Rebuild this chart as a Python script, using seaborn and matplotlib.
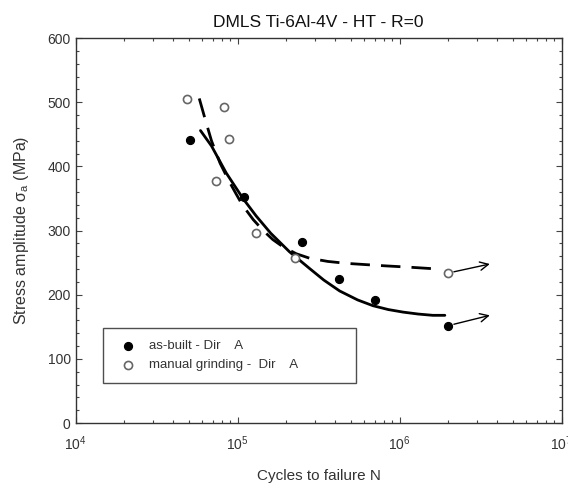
import matplotlib
matplotlib.use("Agg")
import matplotlib.pyplot as plt
import seaborn as sns
import pandas as pd
from matplotlib.ticker import MultipleLocator, LogLocator, NullFormatter

# as-built - Dir A (filled)
built_n = [5.1e4, 1.09e5, 2.5e5, 4.2e5, 7.0e5, 2.0e6]
built_s = [441, 353, 283, 224, 192, 152]

# manual grinding - Dir A (open)
ground_n = [4.9e4, 7.4e4, 8.2e4, 8.8e4, 1.3e5, 2.26e5, 2.0e6]
ground_s = [505, 378, 493, 443, 296, 258, 234]

# fitted curves
built_fit_n = [5.9e4, 6.9e4, 8.5e4, 1.08e5, 1.3e5, 1.6e5, 2.09e5, 2.78e5, 3.4e5,
               4.26e5, 5.5e5, 6.84e5, 8.5e5, 1.05e6, 1.3e6, 1.6e6, 1.9e6]
built_fit_s = [456, 432, 390, 350, 323, 296, 267, 241, 223,
               206, 192, 183, 177, 173, 170, 168, 168]
ground_fit_n = [5.8e4, 6.3e4, 6.9e4, 7.8e4, 8.9e4, 9.8e4, 1.07e5, 1.25e5, 1.44e5,
                1.65e5, 1.9e5, 2.3e5, 2.78e5, 3.6e5, 4.69e5, 6.2e5, 8.28e5, 1.15e6, 1.53e6, 1.7e6]
ground_fit_s = [506, 474, 440, 405, 376, 357, 340, 317, 300,
                286, 275, 264, 257, 252, 249, 247, 245, 243, 241, 241]

# run-out arrows
runout_n0 = [2.0e6, 2.0e6]
runout_s0 = [234, 152]
runout_n1 = [3.6e6, 3.6e6]
runout_s1 = [248, 168]

sns.set_style("ticks")
plt.rcParams["font.family"] = ["Liberation Sans", "DejaVu Sans"]

fig = plt.figure(figsize=(5.68, 4.83), dpi=100)
ax = fig.add_axes([0.133, 0.124, 0.856, 0.797])

built = pd.DataFrame({"n": built_n, "s": built_s})
ground = pd.DataFrame({"n": ground_n, "s": ground_s})

sns.lineplot(x=built_fit_n, y=built_fit_s, ax=ax, color="black", lw=2, sort=False)
sns.lineplot(x=ground_fit_n, y=ground_fit_s, ax=ax, color="black", lw=2, sort=False,
             dashes=False, linestyle=(0, (7, 4)))

sns.scatterplot(data=built, x="n", y="s", ax=ax, color="black", s=34, marker="o",
                edgecolor="black", linewidth=0.8, label="as-built - Dir    A", zorder=5)
sns.scatterplot(data=ground, x="n", y="s", ax=ax, facecolor="white", s=34, marker="o",
                edgecolor="#666666", linewidth=1.2, label="manual grinding -  Dir    A", zorder=5)

for x0, y0, x1, y1 in zip(runout_n0, runout_s0, runout_n1, runout_s1):
    ax.annotate("", xy=(x1, y1), xytext=(x0, y0),
                arrowprops=dict(arrowstyle="->,head_length=0.6,head_width=0.3",
                                color="black", lw=1, shrinkA=4, shrinkB=0))

ax.set_xscale("log")
ax.set_xlim(1e4, 1e7)
ax.set_ylim(0, 600)
ax.yaxis.set_major_locator(MultipleLocator(100))
ax.yaxis.set_minor_locator(MultipleLocator(20))
ax.xaxis.set_major_locator(LogLocator(base=10))
ax.xaxis.set_minor_locator(LogLocator(base=10, subs=range(2, 10)))
ax.xaxis.set_minor_formatter(NullFormatter())

ax.tick_params(which="both", direction="in", top=True, right=True, colors="#444444",
               labelsize=10, labelcolor="#333333", width=0.8)
ax.tick_params(which="major", length=4)
ax.tick_params(which="minor", length=2.5)
ax.tick_params(axis="x", pad=8)
for sp in ax.spines.values():
    sp.set_color("#333333")
    sp.set_linewidth(1)

ax.set_title("DMLS Ti-6Al-4V - HT - R=0", fontsize=12.5, color="#111111", pad=8)
ax.set_xlabel("Cycles to failure N", fontsize=11, color="#333333", labelpad=12)
ax.set_ylabel(r"Stress amplitude $\mathregular{\sigma_a}$ (MPa)", fontsize=11.5,
              color="#333333", labelpad=12)

leg = ax.legend(loc="upper left", bbox_to_anchor=(0.056, 0.247, 0.52, 0.0), mode="expand",
                frameon=True, fancybox=False, fontsize=9.5, handletextpad=0.6,
                borderpad=0.9, labelspacing=0.5, borderaxespad=0)
leg.get_frame().set_edgecolor("#222222")
leg.get_frame().set_linewidth(1)
for t in leg.get_texts():
    t.set_color("#333333")

fig.savefig("out.png", dpi=100)
